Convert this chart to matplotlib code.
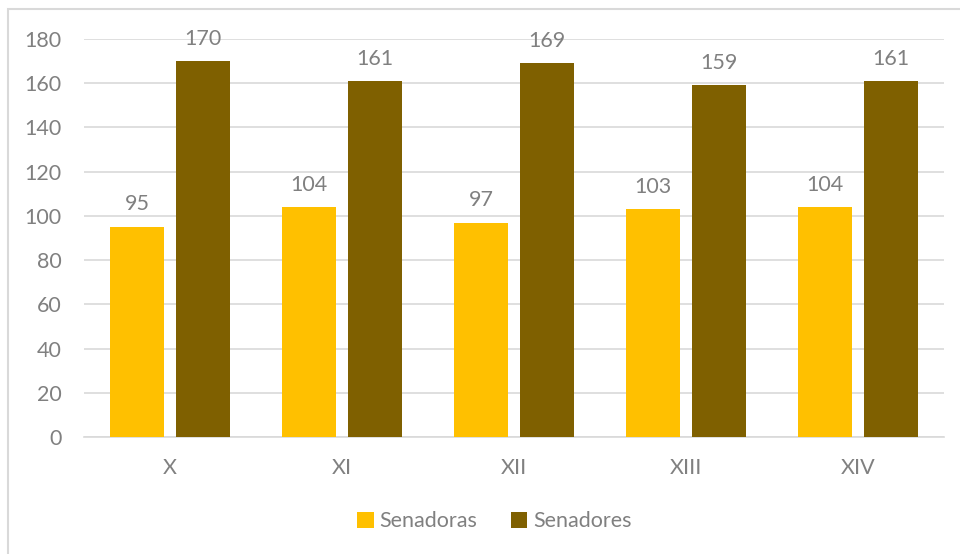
import numpy as np
import matplotlib.pyplot as plt
from matplotlib.patches import Rectangle

plt.rcParams['font.family'] = ['Lato', 'DejaVu Sans']

# Senators per legislature
legislaturas = ["X", "XI", "XII", "XIII", "XIV"]
senadoras = [95, 104, 97, 103, 104]
senadores = [170, 161, 169, 159, 161]

text_color = "#808080"
grid_color = "#D9D9D9"
fs = 15.5

fig = plt.figure(figsize=(9.6, 5.54), dpi=100)
ax = fig.add_axes([0.0875, 0.2112, 0.8958, 0.7184])

x = np.arange(len(legislaturas))
width = 0.31
offset = 0.192

bars1 = ax.bar(x - offset, senadoras, width, color="#FFC000", label="Senadoras", zorder=3)
bars2 = ax.bar(x + offset, senadores, width, color="#7F6000", label="Senadores", zorder=3)

# value labels above each bar
for bars in (bars1, bars2):
    for b in bars:
        ax.annotate(f"{b.get_height():.0f}", (b.get_x() + b.get_width() / 2, b.get_height()),
                    xytext=(0, 9), textcoords="offset points", ha="center", va="bottom",
                    fontsize=fs, color=text_color)

ax.set_xlim(-0.5, len(legislaturas) - 0.5)
ax.set_ylim(0, 180)
ax.set_yticks(np.arange(0, 181, 20))
ax.set_xticks(x)
ax.set_xticklabels(legislaturas)
ax.tick_params(length=0, labelsize=fs, labelcolor=text_color)
ax.tick_params(axis="y", pad=16)
ax.tick_params(axis="x", pad=15)
ax.yaxis.grid(True, color=grid_color, linewidth=1.2, zorder=0)
for side in ("top", "right", "left"):
    ax.spines[side].set_visible(False)
ax.spines["bottom"].set_color(grid_color)
ax.spines["bottom"].set_linewidth(1.2)

leg = fig.legend(loc="center", bbox_to_anchor=(0.515, 0.059), ncol=2, frameon=False,
                 fontsize=fs, handlelength=0.75, handleheight=0.75, handletextpad=0.25,
                 columnspacing=1.6)
for t in leg.get_texts():
    t.set_color(text_color)

# outer chart frame
fig.patches.append(Rectangle((8 / 960, -0.5), 1.2, 1.5 - 9 / 554, transform=fig.transFigure,
                             fill=False, edgecolor=grid_color, linewidth=1.5))

fig.savefig("out.png", dpi=100, facecolor="white")
